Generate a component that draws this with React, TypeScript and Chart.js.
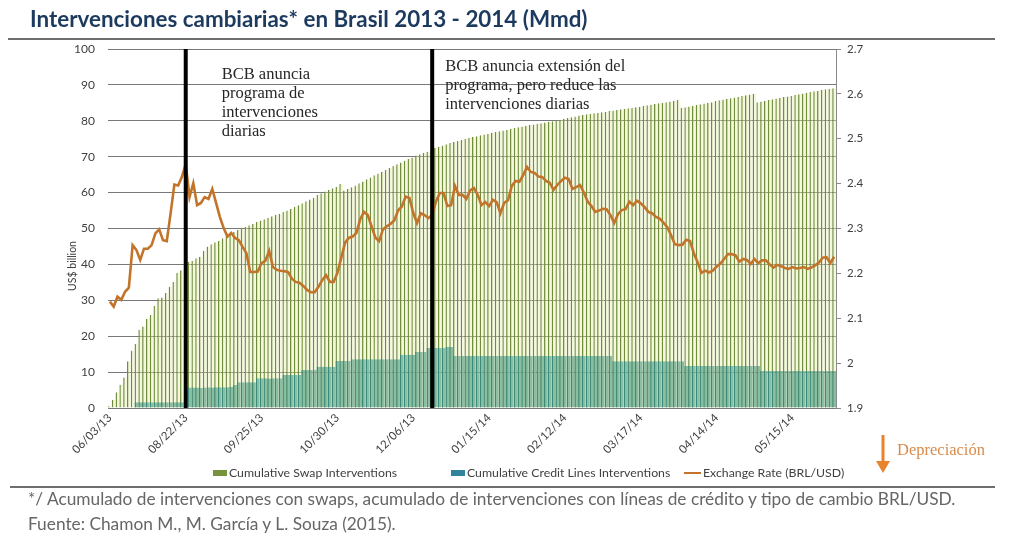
import React, { useEffect, useRef } from 'react';
import { Chart, registerables } from 'chart.js';

Chart.register(...registerables);

// ---- DATA ----
const tickLabels = ['06/03/13', '08/22/13', '09/25/13', '10/30/13', '12/06/13', '01/15/14', '02/12/14', '03/17/14', '04/14/14', '05/15/14'];
const tickEvery = 20;

const swapCumulative = [
  0.5, 2.3, 4.4, 6.5, 8.5, 13.0, 16.0, 17.9, 21.8, 22.7,
  24.8, 26.0, 28.5, 30.6, 30.8, 32.0, 33.8, 35.2, 37.7, 38.4,
  39.5, 40.7, 41.0, 41.7, 42.1, 43.8, 45.0, 45.6, 46.2, 46.6,
  47.3, 47.9, 48.4, 49.0, 49.6, 50.0, 50.5, 50.9, 51.3, 51.8,
  52.2, 52.6, 53.0, 53.4, 53.8, 54.1, 54.6, 55.0, 55.5, 56.0,
  56.5, 57.0, 57.6, 58.1, 58.6, 59.3, 59.8, 60.3, 60.8, 61.2,
  61.6, 62.4, 60.6, 61.0, 61.5, 62.0, 62.6, 63.1, 63.7, 64.2,
  64.8, 65.3, 65.8, 66.3, 66.9, 67.4, 67.9, 68.4, 68.9, 69.4,
  69.8, 70.3, 70.7, 71.1, 71.4, 71.8, 72.4, 72.7, 73.1, 73.5,
  73.8, 74.1, 74.4, 74.7, 75.0, 75.2, 75.5, 75.7, 76.0, 76.2,
  76.4, 76.7, 76.9, 77.1, 77.3, 77.5, 77.8, 78.0, 78.2, 78.4,
  78.6, 78.8, 79.0, 79.2, 79.3, 79.5, 79.7, 79.9, 80.1, 80.3,
  80.5, 80.8, 81.0, 81.2, 81.5, 81.6, 81.8, 81.9, 82.1, 82.2,
  82.4, 82.5, 82.7, 82.9, 83.0, 83.2, 83.3, 83.5, 83.6, 83.8,
  83.9, 84.1, 84.3, 84.5, 84.7, 84.9, 85.0, 85.2, 85.4, 85.6,
  85.8, 83.6, 83.8, 84.0, 84.2, 84.4, 84.6, 84.8, 85.0, 85.2,
  85.5, 85.7, 85.9, 86.1, 86.3, 86.5, 86.7, 86.9, 87.1, 87.3,
  87.5, 85.2, 85.4, 85.6, 85.8, 86.0, 86.2, 86.4, 86.6, 86.8,
  87.0, 87.2, 87.4, 87.6, 87.8, 88.0, 88.2, 88.4, 88.6, 88.8,
  88.9, 89.1,
];

const creditCumulative = [
  0, 0, 0, 0, 0, 0, 0, 1.6, 1.6, 1.6,
  1.6, 1.6, 1.6, 1.6, 1.6, 1.6, 1.6, 1.6, 1.6, 1.6,
  5.0, 5.7, 5.7, 5.7, 5.6, 5.7, 5.8, 5.7, 5.8, 5.8,
  5.8, 5.8, 5.9, 6.4, 7.2, 7.2, 7.2, 7.2, 7.2, 8.3,
  8.3, 8.3, 8.2, 8.3, 8.3, 8.3, 9.2, 9.2, 9.2, 9.2,
  9.2, 10.6, 10.6, 10.6, 10.6, 11.5, 11.5, 11.5, 11.5, 11.5,
  13.1, 13.1, 13.1, 13.1, 13.6, 13.6, 13.6, 13.6, 13.6, 13.6,
  13.6, 13.6, 13.6, 13.6, 13.6, 13.6, 13.6, 14.8, 14.8, 14.8,
  14.8, 15.6, 15.6, 15.6, 16.7, 16.7, 16.7, 16.7, 16.7, 17.0,
  17.0, 14.5, 14.5, 14.5, 14.5, 14.5, 14.5, 14.5, 14.5, 14.5,
  14.5, 14.5, 14.5, 14.5, 14.5, 14.5, 14.5, 14.5, 14.5, 14.5,
  14.5, 14.5, 14.5, 14.5, 14.5, 14.5, 14.5, 14.5, 14.5, 14.5,
  14.5, 14.5, 14.5, 14.5, 14.5, 14.5, 14.5, 14.5, 14.5, 14.5,
  14.5, 14.5, 14.5, 13.0, 13.0, 13.0, 13.0, 13.0, 13.0, 13.0,
  13.0, 13.0, 13.0, 13.0, 13.0, 13.0, 13.0, 13.0, 13.0, 13.0,
  13.0, 13.0, 11.7, 11.7, 11.7, 11.7, 11.7, 11.7, 11.7, 11.7,
  11.7, 11.7, 11.7, 11.7, 11.7, 11.7, 11.7, 11.7, 11.7, 11.7,
  11.7, 11.7, 10.3, 10.3, 10.3, 10.3, 10.3, 10.3, 10.3, 10.3,
  10.3, 10.3, 10.3, 10.3, 10.3, 10.3, 10.3, 10.3, 10.3, 10.3,
  10.3, 10.3,
];

const exchangeRate = [
  2.137, 2.126, 2.148, 2.141, 2.159, 2.168, 2.263, 2.252, 2.230, 2.255,
  2.255, 2.263, 2.289, 2.298, 2.274, 2.272, 2.333, 2.398, 2.396, 2.415,
  2.444, 2.370, 2.401, 2.352, 2.357, 2.370, 2.366, 2.388, 2.357, 2.326,
  2.301, 2.282, 2.290, 2.279, 2.274, 2.259, 2.245, 2.203, 2.203, 2.204,
  2.223, 2.228, 2.250, 2.214, 2.208, 2.206, 2.205, 2.203, 2.188, 2.181,
  2.179, 2.172, 2.163, 2.158, 2.158, 2.170, 2.185, 2.196, 2.181, 2.181,
  2.201, 2.234, 2.268, 2.279, 2.282, 2.290, 2.320, 2.337, 2.330, 2.305,
  2.280, 2.272, 2.298, 2.305, 2.310, 2.318, 2.340, 2.349, 2.371, 2.368,
  2.335, 2.312, 2.334, 2.330, 2.323, 2.330, 2.360, 2.379, 2.379, 2.350,
  2.352, 2.395, 2.375, 2.375, 2.366, 2.385, 2.390, 2.375, 2.352, 2.359,
  2.350, 2.364, 2.359, 2.334, 2.357, 2.363, 2.395, 2.406, 2.404, 2.419,
  2.437, 2.426, 2.424, 2.416, 2.415, 2.406, 2.402, 2.386, 2.397, 2.406,
  2.413, 2.410, 2.388, 2.392, 2.397, 2.380, 2.360, 2.350, 2.337, 2.340,
  2.344, 2.343, 2.330, 2.312, 2.332, 2.341, 2.343, 2.360, 2.352, 2.362,
  2.356, 2.348, 2.337, 2.334, 2.326, 2.322, 2.313, 2.303, 2.285, 2.265,
  2.263, 2.264, 2.275, 2.272, 2.245, 2.225, 2.201, 2.206, 2.202, 2.206,
  2.215, 2.222, 2.232, 2.243, 2.243, 2.240, 2.226, 2.232, 2.230, 2.221,
  2.232, 2.223, 2.229, 2.229, 2.220, 2.213, 2.219, 2.216, 2.212, 2.210,
  2.214, 2.211, 2.212, 2.214, 2.210, 2.213, 2.218, 2.224, 2.235, 2.236,
  2.223, 2.237,
];

const eventIndices = [20, 85];
const eventNotes = [
  ['BCB anuncia', 'programa de', 'intervenciones', 'diarias'],
  ['BCB anuncia extensión del', 'programa, pero reduce las', 'intervenciones diarias'],
];

const seriesNames = ['Cumulative Swap Interventions', 'Cumulative Credit Lines Interventions', 'Exchange Rate (BRL/USD)'];

// ---- STYLE ----
const SWAP_COLOR = '#77933c';
const CREDIT_COLOR = '#31849b';
const LINE_COLOR = '#c2742b';
const TEXT_COLOR = '#404040';
const noteOffsetX = [36, 13];
const noteOffsetY = [30, 22];

const categoryLabels = swapCumulative.map((_, i) => (i % tickEvery === 0 ? tickLabels[i / tickEvery] ?? '' : ''));

const eventsPlugin = {
  id: 'events',
  afterDatasetsDraw(chart: any) {
    const { ctx, chartArea, scales } = chart;
    const xs = scales.x;
    ctx.save();
    eventIndices.forEach((idx, k) => {
      const px = xs.getPixelForValue(idx);
      ctx.strokeStyle = '#000000';
      ctx.lineWidth = 4;
      ctx.beginPath();
      ctx.moveTo(px, chartArea.top);
      ctx.lineTo(px, chartArea.bottom);
      ctx.stroke();
      ctx.fillStyle = '#262626';
      ctx.font = '16.5px "Liberation Serif", serif';
      ctx.textAlign = 'left';
      ctx.textBaseline = 'alphabetic';
      eventNotes[k].forEach((line, j) => {
        ctx.fillText(line, px + noteOffsetX[k], chartArea.top + noteOffsetY[k] + j * 19);
      });
    });
    // left axis title
    ctx.translate(chartArea.left - 35, 266);
    ctx.rotate(-Math.PI / 2);
    ctx.font = '10.5px Lato, sans-serif';
    ctx.fillStyle = TEXT_COLOR;
    ctx.textAlign = 'center';
    ctx.textBaseline = 'middle';
    ctx.fillText('US$ billion', 0, 0);
    ctx.restore();
  },
};

export default function App() {
  const canvasRef = useRef<HTMLCanvasElement | null>(null);

  useEffect(() => {
    if (!canvasRef.current) return;
    Chart.defaults.font.family = 'Lato, sans-serif';
    const chart = new Chart(canvasRef.current, {
      type: 'bar',
      data: {
        labels: categoryLabels,
        datasets: [
          {
            type: 'line',
            label: seriesNames[2],
            data: exchangeRate,
            yAxisID: 'y1',
            borderColor: LINE_COLOR,
            borderWidth: 2.6,
            pointRadius: 0,
            tension: 0,
            order: 1,
          } as any,
          {
            type: 'bar',
            label: seriesNames[1],
            data: creditCumulative,
            yAxisID: 'y',
            backgroundColor: 'rgba(118,180,150,0.85)',
            borderColor: '#3a897b',
            borderWidth: { left: 1.4, right: 0, top: 0, bottom: 0 },
            grouped: false,
            barPercentage: 1,
            categoryPercentage: 1,
            inflateAmount: 0,
            order: 2,
          } as any,
          {
            type: 'bar',
            label: seriesNames[0],
            data: swapCumulative,
            yAxisID: 'y',
            backgroundColor: 'rgba(232,238,175,0.42)',
            borderColor: '#6f8d3b',
            borderWidth: { left: 1.4, right: 0, top: 0, bottom: 0 },
            grouped: false,
            barPercentage: 1,
            categoryPercentage: 1,
            inflateAmount: 0,
            order: 3,
          } as any,
        ],
      },
      options: {
        responsive: false,
        animation: false,
        events: [],
        layout: { padding: { top: 49, left: 0, right: 0, bottom: 81 } },
        plugins: { legend: { display: false }, tooltip: { enabled: false } },
        scales: {
          x: {
            type: 'category',
            offset: true,
            grid: { display: false, drawTicks: false },
            border: { display: false },
            ticks: {
              autoSkip: false,
              maxRotation: 45,
              minRotation: 45,
              padding: 3,
              color: TEXT_COLOR,
              font: { size: 11.5 },
            },
            afterFit: (s: any) => { s.height = 60; },
          },
          y: {
            position: 'left',
            min: 0,
            max: 100,
            ticks: { stepSize: 10, padding: 13, color: TEXT_COLOR, font: { size: 12 } },
            grid: { color: '#787878', lineWidth: 1, drawTicks: false },
            border: { display: false },
            afterFit: (s: any) => { s.width = 108; },
          },
          y1: {
            position: 'right',
            min: 1.9,
            max: 2.7,
            ticks: {
              stepSize: 0.1,
              padding: 6,
              color: TEXT_COLOR,
              font: { size: 11.5 },
              callback: (v: any) => String(Number(Number(v).toFixed(1))),
            },
            grid: { drawOnChartArea: false, drawTicks: true, tickLength: 5, color: '#8a8a8a' },
            border: { display: true, color: '#8a8a8a' },
            afterFit: (s: any) => { s.width = 188; },
          },
        },
      } as any,
      plugins: [eventsPlugin],
    });
    return () => chart.destroy();
  }, []);

  const abs = (extra: React.CSSProperties): React.CSSProperties => ({ position: 'absolute', margin: 0, whiteSpace: 'nowrap', ...extra });

  return (
    <div style={{ position: 'absolute', left: 0, top: 0, width: 1024, height: 549, background: '#ffffff', overflow: 'hidden', fontFamily: 'Lato, sans-serif' }}>
      <canvas ref={canvasRef} width={1024} height={549} style={{ position: 'absolute', left: 0, top: 0, width: 1024, height: 549 }} />
      <div style={abs({ left: 30, top: 8, fontSize: 22.4, lineHeight: 1, fontWeight: 700, color: '#1c3a5e' })}>
        Intervenciones cambiarias* en Brasil 2013 - 2014 (Mmd)
      </div>
      <div style={abs({ left: 8, top: 38, width: 987, height: 2, background: '#6e6e6e' })} />

      {/* legend */}
      <div style={abs({ left: 213, top: 470, width: 14, height: 6, background: SWAP_COLOR })} />
      <div style={abs({ left: 229, top: 466.5, fontSize: 12.3, lineHeight: 1, color: TEXT_COLOR })}>{seriesNames[0]}</div>
      <div style={abs({ left: 451, top: 470, width: 14, height: 6, background: CREDIT_COLOR })} />
      <div style={abs({ left: 467, top: 466.5, fontSize: 12.3, lineHeight: 1, color: TEXT_COLOR })}>{seriesNames[1]}</div>
      <div style={abs({ left: 684, top: 472, width: 17, height: 2, background: LINE_COLOR })} />
      <div style={abs({ left: 703, top: 466.5, fontSize: 12.3, lineHeight: 1, color: TEXT_COLOR })}>{seriesNames[2]}</div>

      {/* depreciation arrow */}
      <svg style={{ position: 'absolute', left: 870, top: 430 }} width={26} height={46}>
        <line x1={13} y1={5} x2={13} y2={33} stroke="#e8832e" strokeWidth={3} />
        <polygon points="6,31 20,31 13,43" fill="#e8832e" />
      </svg>
      <div style={abs({ left: 897, top: 442, fontSize: 16.5, lineHeight: 1, color: '#d98b4c', fontFamily: '"Liberation Serif", serif' })}>Depreciación</div>

      <div style={abs({ left: 10, top: 486, width: 985, height: 2, background: '#6e6e6e' })} />
      <div style={abs({ left: 28, top: 490, fontSize: 17.3, lineHeight: 1, color: '#666666' })}>
        */ Acumulado de intervenciones con swaps, acumulado de intervenciones con líneas de crédito y tipo de cambio BRL/USD.
      </div>
      <div style={abs({ left: 28, top: 515, fontSize: 17.3, lineHeight: 1, color: '#666666' })}>
        Fuente: Chamon M., M. García y L. Souza (2015).
      </div>
    </div>
  );
}
